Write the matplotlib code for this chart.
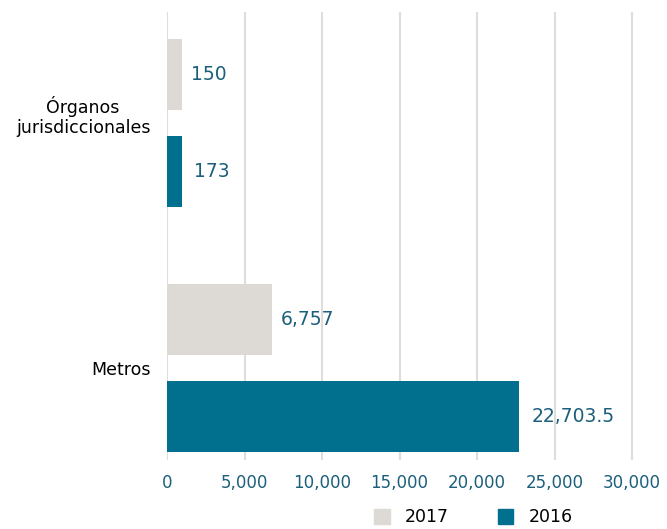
import matplotlib.pyplot as plt
from matplotlib.patches import Patch

categories = ["Metros", "Órganos\njurisdiccionales"]
vals_2017 = [6757, 150]
vals_2016 = [22703.5, 173]
labels_2017 = ["6,757", "150"]
labels_2016 = ["22,703.5", "173"]
xticks = [0, 5000, 10000, 15000, 20000, 25000, 30000]

gray = "#dddad5"
teal = "#00708e"
lblc = "#1b5f7c"

# tiny values still get a visible bar, like the original tool does
min_len = 950

fig = plt.figure(figsize=(6.67, 5.29), dpi=100)
ax = fig.add_axes([0.2504, 0.1304, 0.7206, 0.8469])

h = 0.286
off = 0.198
for i in range(len(categories)):
	w17 = max(vals_2017[i], min_len)
	w16 = max(vals_2016[i], min_len)
	ax.barh(i + off, w17, height=h, color=gray, zorder=2)
	ax.barh(i - off, w16, height=h, color=teal, zorder=2)
	ax.text(w17 + 600, i + off, labels_2017[i], va="center", ha="left",
		fontsize=13.5, color=lblc)
	ax.text(w16 + 800, i - off, labels_2016[i], va="center", ha="left",
		fontsize=13.5, color=lblc)

ax.set_xlim(0, 31000)
ax.set_ylim(-0.3755, 1.453)
ax.set_xticks(xticks)
ax.set_xticklabels(["{:,}".format(t) for t in xticks], fontsize=12, color=lblc)
ax.set_yticks([0, 1.04])
ax.set_yticklabels(categories, fontsize=12.5, multialignment="center")
ax.tick_params(axis="both", length=0)
ax.tick_params(axis="x", pad=10)
ax.tick_params(axis="y", pad=12)
ax.grid(axis="x", color="#e0dcd8", linewidth=1.5, zorder=0)
for s in ax.spines.values():
	s.set_visible(False)

handles = [Patch(color=gray, label="2017"), Patch(color=teal, label="2016")]
fig.legend(handles=handles, loc="center", bbox_to_anchor=(0.71, 0.022), ncol=2,
	frameon=False, fontsize=12.5, handlelength=0.9, handleheight=0.9,
	columnspacing=2.8, handletextpad=0.9)

fig.savefig("out.png", dpi=100)
